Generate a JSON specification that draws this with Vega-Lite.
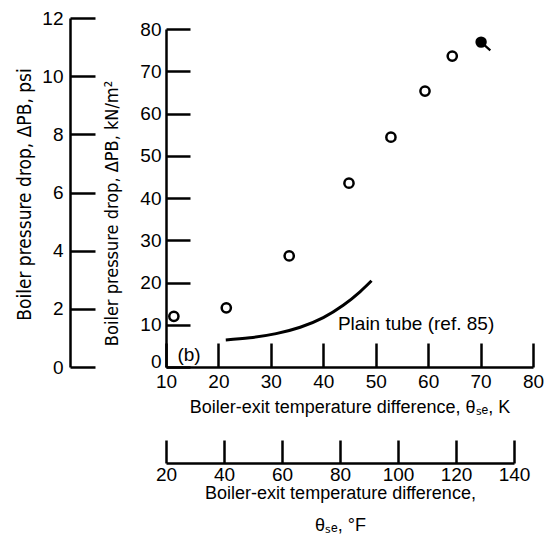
{
  "$schema": "https://vega.github.io/schema/vega-lite/v6.json",
  "width": 367,
  "height": 349,
  "autosize": {"type": "none"},
  "padding": {"left": 166, "top": 18, "right": 14, "bottom": 171},
  "background": "white",
  "datasets": {
    "points": [
      {"theta_K": 11.5, "dp_kN": 12.0, "kind": "open"},
      {"theta_K": 21.5, "dp_kN": 14.0, "kind": "open"},
      {"theta_K": 33.5, "dp_kN": 26.3, "kind": "open"},
      {"theta_K": 44.9, "dp_kN": 43.5, "kind": "open"},
      {"theta_K": 52.9, "dp_kN": 54.4, "kind": "open"},
      {"theta_K": 59.4, "dp_kN": 65.3, "kind": "open"},
      {"theta_K": 64.6, "dp_kN": 73.6, "kind": "open"}
    ],
    "flagged": [
      {"theta_K": 70.1, "dp_kN": 76.9}
    ],
    "curve": [
      {"theta_K": 21.4, "dp_kN": 6.4},
      {"theta_K": 26.0, "dp_kN": 6.9},
      {"theta_K": 31.0, "dp_kN": 7.9},
      {"theta_K": 35.6, "dp_kN": 9.4},
      {"theta_K": 40.0, "dp_kN": 11.7},
      {"theta_K": 43.8, "dp_kN": 14.6},
      {"theta_K": 47.0, "dp_kN": 17.8},
      {"theta_K": 49.2, "dp_kN": 20.4}
    ],
    "labels": [
      {"theta_K": 14.4, "dp_kN": 2.8, "label": "(b)"},
      {"theta_K": 57.7, "dp_kN": 10.2, "label": "Plain tube (ref. 85)"}
    ],
    "psi": [{"psi": 0}, {"psi": 12}],
    "degF": [{"f": 20}, {"f": 140}]
  },
  "layer": [
    {
      "layer": [
        {
          "data": {"name": "curve"},
          "mark": {"type": "line", "color": "black", "strokeWidth": 3, "interpolate": "natural"},
          "encoding": {
            "x": {"field": "theta_K", "type": "quantitative"},
            "y": {"field": "dp_kN", "type": "quantitative"}
          }
        },
        {
          "data": {"name": "points"},
          "mark": {"type": "point", "shape": "circle", "filled": false, "stroke": "black", "strokeWidth": 2.5, "size": 85, "opacity": 1},
          "encoding": {
            "x": {"field": "theta_K", "type": "quantitative"},
            "y": {"field": "dp_kN", "type": "quantitative"}
          }
        },
        {
          "data": {"name": "flagged"},
          "mark": {"type": "point", "shape": "M-1,0A1,1,0,1,1,1,0A1,1,0,1,1,-1,0ZM0,0L2,1.8", "filled": true, "fill": "black", "stroke": "black", "strokeWidth": 2.2, "size": 85, "opacity": 1},
          "encoding": {
            "x": {"field": "theta_K", "type": "quantitative"},
            "y": {"field": "dp_kN", "type": "quantitative"}
          }
        },
        {
          "data": {"name": "labels"},
          "mark": {"type": "text", "font": "Liberation Sans", "fontSize": 19, "color": "black", "align": "center", "baseline": "middle"},
          "encoding": {
            "x": {"field": "theta_K", "type": "quantitative"},
            "y": {"field": "dp_kN", "type": "quantitative"},
            "text": {"field": "label"}
          }
        }
      ],
      "encoding": {
        "x": {
          "field": "theta_K", "type": "quantitative",
          "scale": {"domain": [10, 80], "nice": false, "zero": false},
          "axis": {
            "orient": "bottom",
            "values": [10, 20, 30, 40, 50, 60, 70, 80],
            "tickSize": -24,
            "labelPadding": 29,
            "title": "Boiler-exit temperature difference, θₛₑ, K",
            "titleY": 45,
            "titleBaseline": "alphabetic"
          }
        },
        "y": {
          "field": "dp_kN", "type": "quantitative",
          "scale": {"domain": [0, 80], "range": [349, 11], "nice": false, "zero": true},
          "axis": {
            "orient": "left",
            "values": [0, 10, 20, 30, 40, 50, 60, 70, 80],
            "tickSize": -24,
            "labelPadding": 29,
            "labelOffset": {"condition": {"test": "datum.value === 0", "value": -6}, "value": 0},
            "title": "Boiler pressure drop, ΔPB, kN/m²",
            "titleFont": "DejaVu Sans Condensed",
            "titleFontSize": 18,
            "titleAngle": -90,
            "titleX": -49,
            "titleY": 195,
            "titleAlign": "center",
            "titleBaseline": "alphabetic"
          }
        }
      }
    },
    {
      "data": {"name": "psi"},
      "mark": {"type": "point", "opacity": 0},
      "encoding": {
        "y": {
          "field": "psi", "type": "quantitative",
          "scale": {"domain": [0, 12], "range": [349, 0], "nice": false, "zero": true},
          "axis": {
            "orient": "left",
            "offset": 96,
            "values": [0, 2, 4, 6, 8, 10, 12],
            "tickSize": -25,
            "labelPadding": 32,
            "title": "Boiler pressure drop, ΔPB, psi",
            "titleFont": "DejaVu Sans Condensed",
            "titleFontSize": 19,
            "titleAngle": -90,
            "titleX": -40,
            "titleY": 176,
            "titleAlign": "center",
            "titleBaseline": "alphabetic"
          }
        }
      }
    },
    {
      "data": {"name": "degF"},
      "mark": {"type": "point", "opacity": 0},
      "encoding": {
        "x": {
          "field": "f", "type": "quantitative",
          "scale": {"domain": [20, 140], "range": [0, 348], "nice": false, "zero": false},
          "axis": {
            "orient": "bottom",
            "offset": 96,
            "values": [20, 40, 60, 80, 100, 120, 140],
            "tickSize": -23,
            "labelPadding": 25,
            "title": ["Boiler-exit temperature difference,", "θₛₑ, °F"],
            "titleY": 35,
            "titleLineHeight": 32,
            "titleBaseline": "alphabetic"
          }
        }
      }
    }
  ],
  "resolve": {
    "scale": {"x": "independent", "y": "independent"},
    "axis": {"x": "independent", "y": "independent"}
  },
  "config": {
    "view": {"stroke": null},
    "axis": {
      "grid": false,
      "domainColor": "black",
      "domainWidth": 2.5,
      "tickColor": "black",
      "tickWidth": 2.5,
      "labelColor": "black",
      "labelFont": "Liberation Sans",
      "labelFontSize": 19,
      "labelFlush": false,
      "labelOverlap": false,
      "titleColor": "black",
      "titleFont": "Liberation Sans",
      "titleFontSize": 18,
      "titleFontWeight": "normal"
    }
  }
}
